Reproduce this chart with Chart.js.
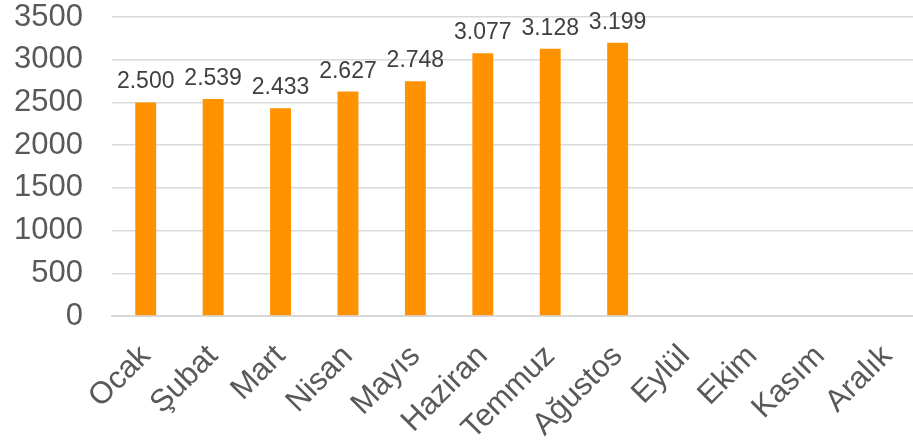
<!DOCTYPE html>
<html>
<head>
<meta charset="utf-8">
<script src="https://cdn.jsdelivr.net/npm/chart.js@4"></script>
<style>
  html, body { margin: 0; padding: 0; background: #fff; overflow: hidden; }
  #wrap { width: 921px; height: 445px; }
</style>
</head>
<body>
<div id="wrap"><canvas id="chart"></canvas></div>
<script>
const months = ["Ocak", "Şubat", "Mart", "Nisan", "Mayıs", "Haziran", "Temmuz", "Ağustos", "Eylül", "Ekim", "Kasım", "Aralık"];
const values = [2500, 2539, 2433, 2627, 2748, 3077, 3128, 3199, null, null, null, null];
const yTicks = [0, 500, 1000, 1500, 2000, 2500, 3000, 3500];

const textColor = "#595959";
const font = "Liberation Sans, Arial, sans-serif";

function trNumber(v) {
  return String(v).replace(/\B(?=(\d{3})+(?!\d))/g, ".");
}

// labels above bars
const barLabels = {
  id: "barLabels",
  afterDatasetsDraw(chart) {
    const ctx = chart.ctx;
    const meta = chart.getDatasetMeta(0);
    ctx.save();
    ctx.font = "23px " + font;
    ctx.fillStyle = "#404040";
    ctx.textAlign = "center";
    ctx.textBaseline = "alphabetic";
    meta.data.forEach((bar, i) => {
      if (values[i] == null) return;
      ctx.fillText(trNumber(values[i]), bar.x, bar.y - 14);
    });
    ctx.restore();
  }
};

new Chart(document.getElementById("chart"), {
  type: "bar",
  data: {
    labels: months,
    datasets: [{
      data: values,
      backgroundColor: "#ff9200",
      categoryPercentage: 1,
      barPercentage: 0.31
    }]
  },
  options: {
    responsive: true,
    maintainAspectRatio: false,
    animation: false,
    layout: { padding: { left: 12, top: 0, right: 0, bottom: 0 } },
    plugins: { legend: { display: false }, tooltip: { enabled: false } },
    scales: {
      x: {
        afterFit(axis) { axis.height = 129; axis.paddingLeft = 0; axis.paddingRight = 0; },
        grid: { display: false, drawTicks: false },
        border: { color: "#d9d9d9", width: 2 },
        ticks: {
          color: textColor,
          font: { family: font, size: 31 },
          minRotation: 45,
          maxRotation: 45,
          padding: 22,
          autoSkip: false
        }
      },
      y: {
        min: 0,
        max: 3500,
        afterBuildTicks(axis) { axis.ticks = yTicks.map(v => ({ value: v })); },
        afterFit(axis) { axis.width = 100; axis.paddingTop = 17; axis.paddingBottom = 0; },
        grid: { color: "#d9d9d9", lineWidth: 1.5, drawTicks: false },
        border: { display: false },
        ticks: {
          color: textColor,
          font: { family: font, size: 31 },
          padding: 29,
          autoSkip: false,
          callback: v => String(v)
        }
      }
    }
  },
  plugins: [barLabels]
});
</script>
</body>
</html>
